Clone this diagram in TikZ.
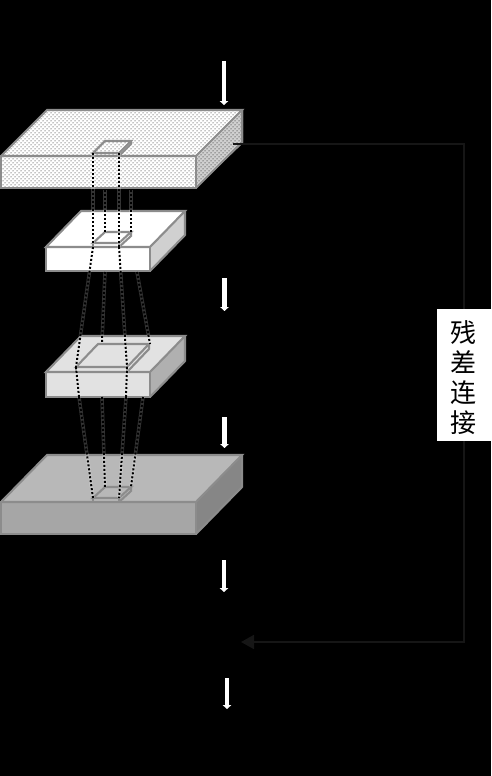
\documentclass[tikz,border=0pt]{standalone}
\usepackage{fontspec}
\newfontfamily\cjk{Noto Sans CJK SC}
\usetikzlibrary{arrows.meta,patterns}
\definecolor{edgegray}{RGB}{140,140,140}
\definecolor{skipdark}{RGB}{22,22,22}
\definecolor{sideplain}{RGB}{208,208,208}
\definecolor{midtop}{RGB}{226,226,226}
\definecolor{midside}{RGB}{176,176,176}
\definecolor{lowtop}{RGB}{184,184,184}
\definecolor{lowfront}{RGB}{166,166,166}
\definecolor{lowside}{RGB}{134,134,134}
\pgfdeclarepatternformonly{sparsedots}{\pgfqpoint{-1pt}{-1pt}}{\pgfqpoint{5pt}{5pt}}{\pgfqpoint{4pt}{4pt}}{
  \pgfpathcircle{\pgfqpoint{1pt}{1pt}}{.5pt}
  \pgfpathcircle{\pgfqpoint{3pt}{3pt}}{.5pt}
  \pgfusepath{fill}
}
% front left, front top, front right, front bottom, depth x, depth y, colours top/front/side
\newcommand{\slabbox}[9]{
  \fill[#7] (#1,#2) -- ++(#5,-#6) -- ++(#3-#1,0) -- ++(-#5,#6) -- cycle;
  \fill[#8] (#1,#2) rectangle (#3,#4);
  \fill[#9] (#3,#2) -- ++(#5,-#6) -- ++(0,#4-#2) -- (#3,#4) -- cycle;
}
\newcommand{\slabedge}[6]{
  \draw[slabline] (#1,#2) -- ++(#5,-#6) -- ++(#3-#1,0) -- ++(-#5,#6) -- cycle;
  \draw[slabline] (#1,#2) rectangle (#3,#4);
  \draw[slabline] (#3,#2) ++(#5,-#6) -- ++(0,#4-#2) -- (#3,#4);
}
\begin{document}
\begin{tikzpicture}[
  x=1pt, y=-1pt,
  slabline/.style={draw=edgegray, line width=2.1pt, line join=miter},
  sight/.style={black, line width=2pt, dash pattern=on 2pt off 2pt},
  sightglow/.style={white, opacity=.2, line width=3.4pt},
  flow/.style={white, line width=4.2pt, -{Triangle[length=4pt, width=8.5pt]}},
  skip/.style={skipdark, line width=2pt},
  skiphead/.style={skipdark, line width=2pt, -{Triangle[length=13pt, width=14pt]}},
  tag/.style={fill=white, minimum width=54pt, minimum height=132pt, inner sep=0pt,
    font=\cjk\fontsize{26}{30}\selectfont, align=center, text=black},
]
  \fill[black] (0,0) rectangle (491,776);
  \useasboundingbox (0,0) rectangle (491,776);

  % first slab
  \slabbox{1}{156}{196}{188}{46}{46}{white}{white}{white}
  \fill[pattern=sparsedots, pattern color=black] (1,156) -- (47,110) -- (243,110) -- (196,156) -- cycle;
  \fill[pattern=sparsedots, pattern color=black] (1,156) rectangle (196,188);
  \fill[sideplain] (196,156) -- (243,110) -- (243,143) -- (196,188) -- cycle;
  \fill[pattern=sparsedots, pattern color=black] (196,156) -- (243,110) -- (243,143) -- (196,188) -- cycle;
  \slabedge{1}{156}{196}{188}{46}{46}
  \fill[white] (93,153) -- (105,141) -- (131,141) -- (119,153) -- cycle;
  \fill[pattern=sparsedots, pattern color=black] (93,153) -- (105,141) -- (131,141) -- (119,153) -- cycle;
  \slabedge{93}{153}{119}{156}{12}{12}

  % second slab
  \slabbox{46}{247}{150}{271}{35}{36}{white}{white}{sideplain}
  \slabedge{46}{247}{150}{271}{35}{36}
  \slabedge{93}{243}{119}{247}{12}{11}

  % third slab
  \slabbox{46}{372}{150}{397}{35}{36}{midtop}{midtop}{midside}
  \slabedge{46}{372}{150}{397}{35}{36}
  \slabedge{76}{367}{127}{372}{22}{23}

  % fourth slab
  \slabbox{1}{502}{196}{534}{46}{47}{lowtop}{lowfront}{lowside}
  \slabedge{1}{502}{196}{534}{46}{47}
  \slabedge{93}{498}{119}{502}{12}{11}

  % sight lines between the slabs
  \foreach \xa/\ya/\xb/\yb in {93/153/93/244, 105/190/105/232, 119/153/119/247, 131/190/131/232,
      93/247/76/367, 105/272/102/342, 119/247/127/367, 137/272/150/344,
      76/367/79/397, 127/367/126/397,
      79/397/93/498, 102/397/105/487, 126/397/119/498, 143/397/131/487} {
    \draw[sightglow] (\xa,\ya) -- (\xb,\yb);
    \draw[sight] (\xa,\ya) -- (\xb,\yb);
  }

  % flow arrows
  \foreach \i/\x/\ya/\yb in {1/224/61/105, 2/224.5/278/311, 3/224.5/417/448, 4/224/560/592, 5/227/678/709} {
    \coordinate (flowtop\i) at (\x,\ya);
    \coordinate (flowend\i) at (\x,\yb);
    \draw[flow] (flowtop\i) -- (flowend\i);
  }

  % residual link
  \node[tag] (residual) at (463.5,375) {\rule{0pt}{27pt}残\\差\\连\\接};
  \coordinate (skipout) at (233,144);
  \coordinate (skipin) at (241,642);
  \draw[skip] (skipout) -| (residual.north);
  \draw[skiphead] (residual.south) |- (skipin);
\end{tikzpicture}
\end{document}
